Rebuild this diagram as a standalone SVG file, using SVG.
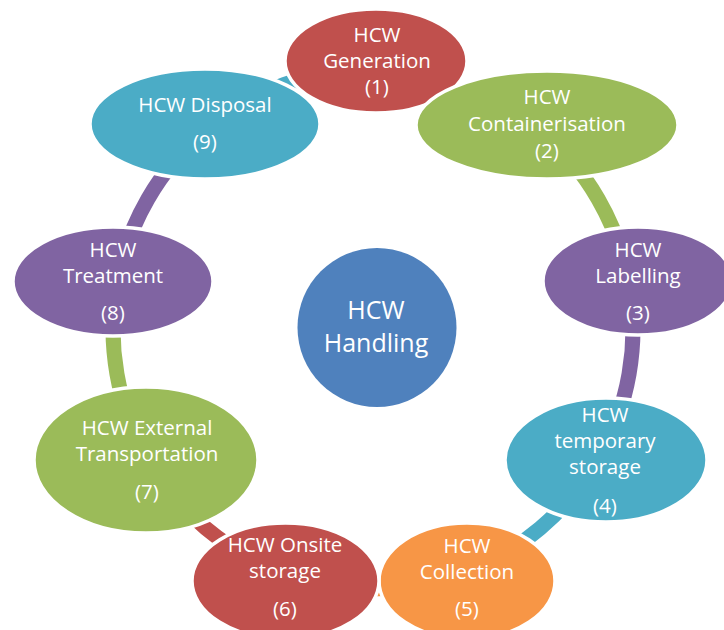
<svg xmlns="http://www.w3.org/2000/svg" width="724" height="630" viewBox="0 0 724 630">
  <style>
    .node { stroke: #ffffff; stroke-width: 3.5; }
    .red { fill: #C0504D; }
    .green { fill: #9BBB59; }
    .purple { fill: #8064A2; }
    .teal { fill: #4BACC6; }
    .orange { fill: #F79646; }
    .blue { fill: #4F81BD; }
    .lbl { font-family: "Open Sans", "Liberation Sans", sans-serif; font-size: 20.5px; fill: #ffffff; text-anchor: middle; }
    .lbl-c { font-family: "Open Sans", "Liberation Sans", sans-serif; font-size: 25px; fill: #ffffff; text-anchor: middle; }
    .link { fill: none; stroke-width: 15; stroke-linecap: butt; }
  </style>
  <rect width="724" height="630" fill="#ffffff"/>

  <!-- cycle connectors: arcs on a ring around the hub, coloured by source step -->
  <g id="connectors">
    <path class="link" stroke="#C0504D" d="M373 69 A260 260 0 0 1 427.1 74.7"/>
    <path class="link" stroke="#9BBB59" d="M540.1 129.8 A260 260 0 0 1 629 283.9"/>
    <path class="link" stroke="#8064A2" d="M629 283.9 A260 260 0 0 1 598.2 459"/>
    <path class="link" stroke="#4BACC6" d="M598.2 459 A260 260 0 0 1 461.9 573.3"/>
    <path class="link" stroke="#F79646" d="M461.9 573.3 A260 260 0 0 1 284.1 573.3"/>
    <path class="link" stroke="#C0504D" d="M284.1 573.3 A260 260 0 0 1 147.8 459"/>
    <path class="link" stroke="#9BBB59" d="M147.8 459 A260 260 0 0 1 117 283.9"/>
    <path class="link" stroke="#8064A2" d="M117 283.9 A260 260 0 0 1 205.9 129.8"/>
    <path class="link" stroke="#4BACC6" d="M205.9 129.8 A260 260 0 0 1 373 69"/>
  </g>

  <g id="node9">
    <ellipse class="node teal" cx="205" cy="124" rx="115" ry="55"/>
    <text class="lbl" x="205" y="112">HCW Disposal</text>
    <text class="lbl" x="205" y="149">(9)</text>
  </g>

  <g id="node1">
    <ellipse class="node red" cx="376" cy="61" rx="91" ry="52"/>
    <text class="lbl" x="377" y="42">HCW</text>
    <text class="lbl" x="377" y="68">Generation</text>
    <text class="lbl" x="377" y="94">(1)</text>
  </g>

  <g id="node2">
    <ellipse class="node green" cx="547" cy="125" rx="131" ry="54"/>
    <text class="lbl" x="547" y="104">HCW</text>
    <text class="lbl" x="547" y="131">Containerisation</text>
    <text class="lbl" x="547" y="158">(2)</text>
  </g>

  <g id="node3">
    <ellipse class="node purple" cx="638" cy="281" rx="95" ry="54"/>
    <text class="lbl" x="638" y="257">HCW</text>
    <text class="lbl" x="638" y="283">Labelling</text>
    <text class="lbl" x="638" y="320">(3)</text>
  </g>

  <g id="node4">
    <ellipse class="node teal" cx="606" cy="460" rx="101" ry="62"/>
    <text class="lbl" x="605" y="422">HCW</text>
    <text class="lbl" x="605" y="448">temporary</text>
    <text class="lbl" x="605" y="474">storage</text>
    <text class="lbl" x="605" y="513">(4)</text>
  </g>

  <g id="node5">
    <ellipse class="node orange" cx="467" cy="581" rx="88" ry="58"/>
    <text class="lbl" x="467" y="553">HCW</text>
    <text class="lbl" x="467" y="579">Collection</text>
    <text class="lbl" x="467" y="616">(5)</text>
  </g>

  <g id="node6">
    <ellipse class="node red" cx="285.5" cy="581" rx="93.5" ry="58"/>
    <text class="lbl" x="285" y="552">HCW Onsite</text>
    <text class="lbl" x="285" y="578">storage</text>
    <text class="lbl" x="285" y="616">(6)</text>
  </g>

  <g id="node7">
    <ellipse class="node green" cx="146" cy="460" rx="112" ry="73"/>
    <text class="lbl" x="147" y="435">HCW External</text>
    <text class="lbl" x="147" y="461">Transportation</text>
    <text class="lbl" x="147" y="499">(7)</text>
  </g>

  <g id="node8">
    <ellipse class="node purple" cx="113" cy="281.5" rx="100" ry="54.5"/>
    <text class="lbl" x="113" y="257">HCW</text>
    <text class="lbl" x="113" y="283">Treatment</text>
    <text class="lbl" x="113" y="320">(8)</text>
  </g>

  <g id="hub">
    <circle class="blue" cx="377" cy="327.5" r="79.5"/>
    <text class="lbl-c" x="376" y="319">HCW</text>
    <text class="lbl-c" x="376" y="352">Handling</text>
  </g>
</svg>
